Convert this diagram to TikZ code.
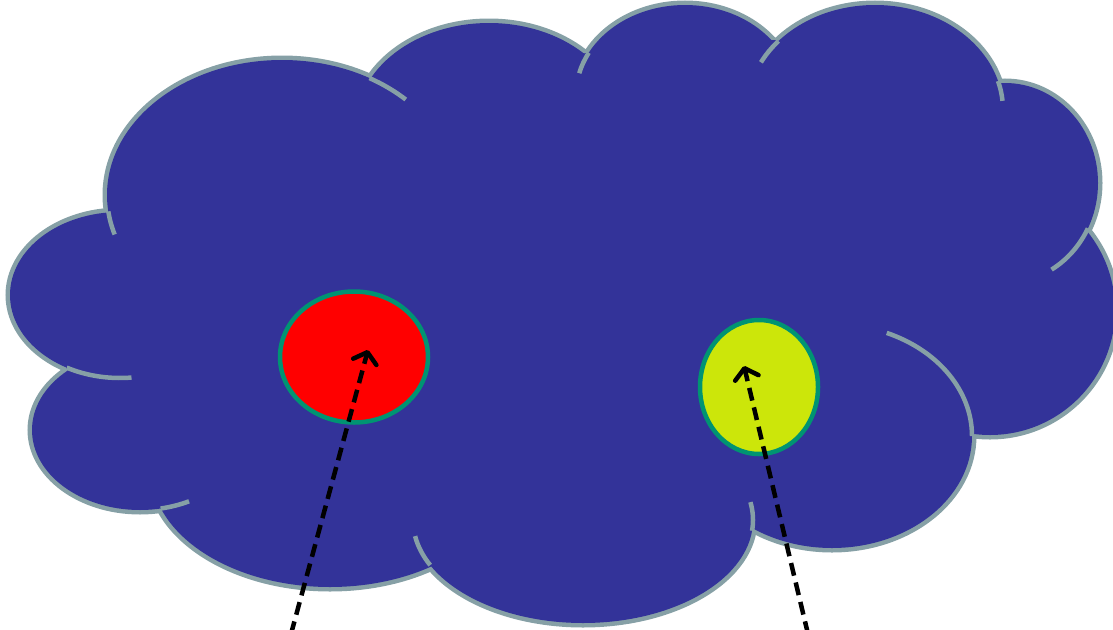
\documentclass[tikz,border=0pt]{standalone}
\usepackage{tikz}
\usetikzlibrary{arrows.meta,shapes.geometric}
\definecolor{cloudfill}{HTML}{333399}
\definecolor{cloudline}{HTML}{86A0A6}
\definecolor{spotline}{HTML}{009472}
\definecolor{spotyel}{HTML}{CCE60A}
\tikzset{
  lobeline/.style={draw=cloudline, line width=9pt},
  seam/.style={draw=cloudline, line width=4.5pt},
  spot/.style={ellipse, draw=spotline, line width=4.5pt, inner sep=0pt},
  probe/.style={-{Straight Barb[length=10pt,width=24pt,round]}, line width=4.5pt,
    dash pattern=on 13pt off 7pt},
}

\begin{document}
\begin{tikzpicture}[x=1pt,y=-1pt]
  \useasboundingbox (0,0) rectangle (1113,629);
  \foreach \cx/\cy/\rx/\ry in {282/195/175/135, 489/125/133/102, 685/95/109/90,
      875/110/128/105, 1005/183/93/100, 990/310/125/125, 832/436/140/112,
      583/520/170/103, 330/470/179/117, 140/430/108/80, 120/295/110/83}
    \draw[lobeline] (\cx,\cy) ellipse [x radius=\rx, y radius=\ry];
  \fill[cloudfill] (371,78) -- (587,53) -- (774,40) -- (998,83) -- (1087,227)
    -- (973,435) -- (746,530) -- (434,563) -- (161,508) -- (66,368) -- (107,213) -- cycle;
  \foreach \cx/\cy/\rx/\ry in {282/195/175/135, 489/125/133/102, 685/95/109/90,
      875/110/128/105, 1005/183/93/100, 990/310/125/125, 832/436/140/112,
      583/520/170/103, 330/470/179/117, 140/430/108/80, 120/295/110/83}
    \fill[cloudfill] (\cx,\cy) ellipse [x radius=\rx, y radius=\ry];
  \foreach \cx/\cy/\rx/\ry/\sa/\ea in {282/195/175/135/173/163, 282/195/175/135/-60/-45,
      685/95/109/90/-152/-166, 875/110/128/105/-139/-153, 875/110/128/105/-16/-5,
      1005/183/93/100/27/60, 832/436/140/112/-67/0, 583/520/170/103/6/-10,
      583/520/170/103/154/171, 140/430/108/80/79/63, 120/295/110/83/119/84}
    \draw[seam] (\cx,\cy) ++({\rx*cos(\sa)},{\ry*sin(\sa)})
      arc[start angle=\sa, end angle=\ea, x radius=\rx, y radius=\ry];

  \node[spot, fill=red, minimum width=148pt, minimum height=131pt] (redspot) at (354,357) {};
  \node[spot, fill=spotyel, minimum width=118pt, minimum height=134pt] (yelspot) at (759,387) {};
  \coordinate (redfoot) at (291,634);
  \coordinate (redtip) at (368,350);
  \coordinate (yelfoot) at (808,634);
  \coordinate (yeltip) at (744,366);
  \draw[probe] (redfoot) -- (redtip);
  \draw[probe] (yelfoot) -- (yeltip);
\end{tikzpicture}
\end{document}
